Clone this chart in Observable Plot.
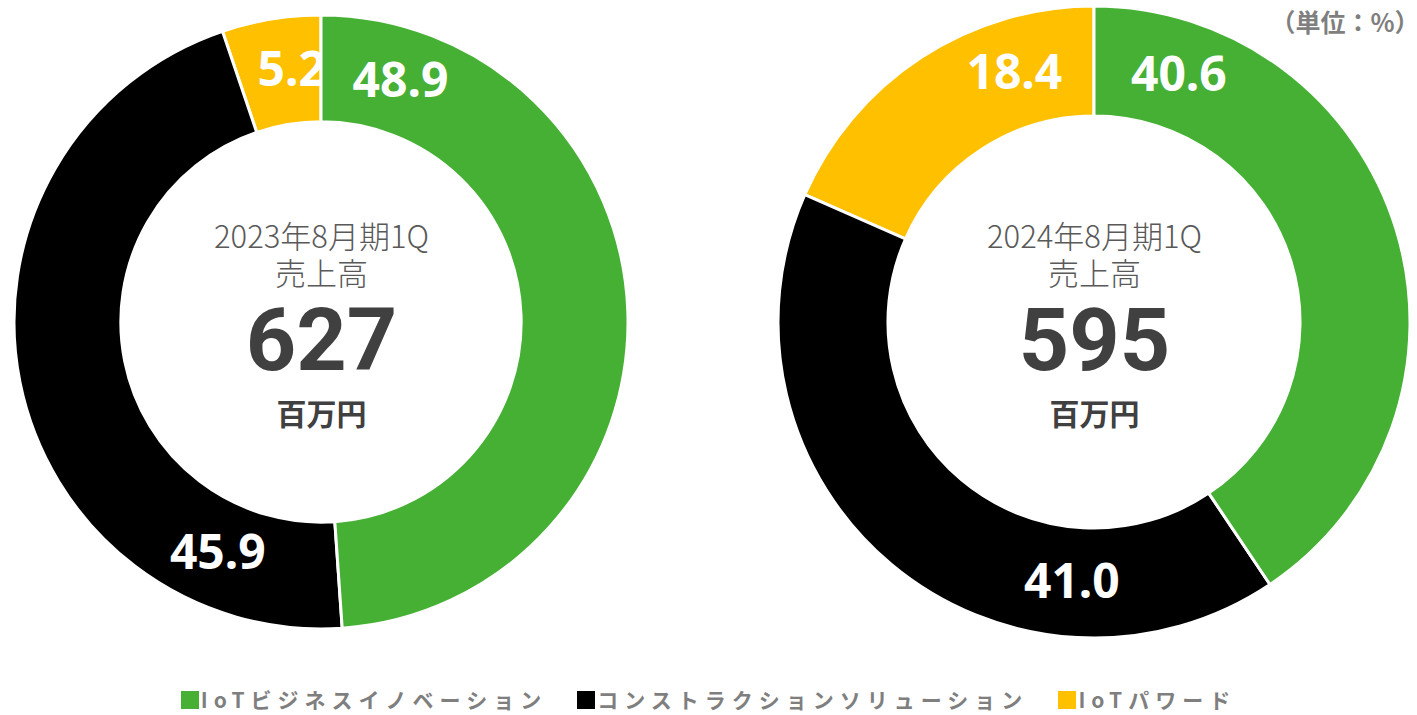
<!DOCTYPE html>
<html>
<head>
<meta charset="utf-8">
<script src="https://cdn.jsdelivr.net/npm/d3@7"></script>
<script src="https://cdn.jsdelivr.net/npm/@observablehq/plot@0.6"></script>
<style>
  html, body { margin: 0; padding: 0; background: #fff; overflow: hidden; }
  #legend {
    height: 31px; line-height: 31px; display: flex; justify-content: center; align-items: center; gap: 30px;
    font-family: "Noto Sans CJK JP", sans-serif; font-weight: 700; font-size: 21px;
    color: #7F7F7F; letter-spacing: 6px; white-space: nowrap;
  }
  #legend .item { display: flex; align-items: center; }
  #legend .sw { width: 18px; height: 18px; margin-right: 2px; display: inline-block; }
</style>
</head>
<body>
<div id="chart"></div>
<div id="legend"></div>
<script>
// ---- data ----
const periods = ["2023年8月期1Q", "2024年8月期1Q"];
const segments = ["IoTビジネスイノベーション", "コンストラクションソリューション", "IoTパワード"];
const share2023 = [48.9, 45.9, 5.2];
const share2024 = [40.6, 41.0, 18.4];
const salesTotals = [627, 595];
const salesLabel = "売上高";
const salesUnit = "百万円";
const unitNote = "（単位：%）";
const segmentColors = ["#46B035", "#000000", "#FFC000"];

// ---- layout ----
const W = 1417, H = 684;
const ringOuter = [307, 316];      // px
const holeRatio = 0.652;
const labelAlong = [[0.103, 0.17, 0.64], [0.129, 0.263, 0.73]]; // label position within slice
const jp = "'Noto Sans CJK JP', 'Noto Sans', sans-serif";

const shares = [share2023, share2024];
const pie = d3.pie().sort(null).value(d => d);
const rows = [];
periods.forEach((p, i) => {
  pie(shares[i]).forEach((a, j) => rows.push({
    period: p, si: j, segment: segments[j], value: shares[i][j], center: 0,
    start: a.startAngle, end: a.endAngle,
    outer: ringOuter[i], inner: ringOuter[i] * holeRatio, t: labelAlong[i][j]
  }));
});

function ringMark(data) {
  return (index, scales) => {
    const arc = d3.arc();
    const g = d3.create("svg:g");
    g.selectAll("path").data(data).join("path")
      .attr("transform", d => `translate(${scales.x(d.period)},${scales.y(d.center)})`)
      .attr("d", d => arc({innerRadius: d.inner, outerRadius: d.outer, startAngle: d.start, endAngle: d.end}))
      .attr("fill", d => segmentColors[d.si])
      .attr("stroke", "white")
      .attr("stroke-width", 3);
    return g.node();
  };
}

const marks = [];
for (const j of [2, 1, 0]) {
  const subset = rows.filter(r => r.si === j);
  marks.push(ringMark(subset));
  for (const r of subset) {
    const ang = r.start + (r.end - r.start) * r.t;
    const rm = (r.outer + r.inner) / 2;
    marks.push(Plot.text([r], {
      x: "period", y: "center", text: d => d.value.toFixed(1),
      dx: Math.sin(ang) * rm, dy: -Math.cos(ang) * rm,
      fill: "white", fontSize: 48, fontWeight: "bold", fontFamily: "'Noto Sans', sans-serif"
    }));
  }
}

const centers = periods.map((p, i) => ({period: p, center: 0, total: salesTotals[i]}));
marks.push(
  Plot.text(centers, {x: "period", y: "center", text: d => d.period + "\n" + salesLabel, lineHeight: 1.2, dy: -68, fontSize: 31, fontWeight: 300, fill: "#595959", fontFamily: jp}),
  Plot.text(centers, {x: "period", y: "center", text: d => String(d.total), dy: 19, fontSize: 88, fontWeight: "bold", fill: "#404040", fontFamily: "Roboto, sans-serif"}),
  Plot.text(centers, {x: "period", y: "center", text: () => salesUnit, dy: 93, fontSize: 30, fontWeight: "bold", fill: "#404040", fontFamily: jp}),
  Plot.text([unitNote], {frameAnchor: "top-right", text: d => d, dx: 2, dy: 14, fontSize: 25, fontWeight: "bold", fill: "#7F7F7F", fontFamily: jp})
);

const chart = Plot.plot({
  width: W, height: H, margin: 0,
  x: {type: "point", domain: periods, range: [321, 1094], padding: 0, axis: null},
  y: {domain: [-1, 1], range: [322 + 316, 322 - 316], axis: null},
  style: {background: "white", overflow: "visible"},
  marks
});
document.getElementById("chart").appendChild(chart);

const legend = d3.select("#legend");
segments.forEach((s, j) => {
  const it = legend.append("div").attr("class", "item");
  it.append("span").attr("class", "sw").style("background", segmentColors[j]);
  it.append("span").text(s);
});
</script>
</body>
</html>
